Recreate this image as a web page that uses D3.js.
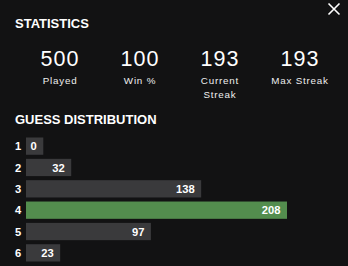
<!DOCTYPE html>
<html><head><meta charset="utf-8">
<script src="https://cdn.jsdelivr.net/npm/d3@7"></script>
<style>
html,body{margin:0;padding:0;background:#121213;}
svg{display:block;}
</style></head>
<body>
<script>
const statValues = ["500", "100", "193", "193"];
const statLabels = [["Played"], ["Win %"], ["Current", "Streak"], ["Max Streak"]];
const guesses = ["1", "2", "3", "4", "5", "6"];
const counts = [0, 32, 138, 208, 97, 23];
const highlight = "4";

const W = 348, H = 266;
const svg = d3.select("body").append("svg").attr("width", W).attr("height", H);
svg.append("rect").attr("width", W).attr("height", H).attr("fill", "#121213");

const font = "'Liberation Sans', Arial, sans-serif";

// close icon
const cx = 334, cy = 9, r = 5.5;
svg.append("path")
  .attr("d", `M${cx-r},${cy-r}L${cx+r},${cy+r}M${cx+r},${cy-r}L${cx-r},${cy+r}`)
  .attr("stroke", "#fff").attr("stroke-width", 1.6).attr("fill", "none");

svg.append("text").attr("x", 15).attr("y", 28.3)
  .attr("font-family", font).attr("font-weight", "bold").attr("font-size", 13)
  .attr("fill", "#fff").text("STATISTICS");

const sx = d3.scaleBand().domain(d3.range(statValues.length)).range([20, 340]);
const sg = svg.append("g").selectAll("g").data(statValues).join("g")
  .attr("transform", (d, i) => `translate(${sx(i) + sx.bandwidth() / 2},0)`);
sg.append("text").attr("y", 66).attr("text-anchor", "middle")
  .attr("font-family", font).attr("font-size", 21.5).attr("letter-spacing", 1)
  .attr("fill", "#fff").text(d => d);
sg.each(function(d, i) {
  d3.select(this).selectAll("text.lab").data(statLabels[i]).join("text")
    .attr("class", "lab").attr("y", (t, j) => 84.3 + j * 13.3).attr("text-anchor", "middle")
    .attr("font-family", font).attr("font-size", 9.8).attr("letter-spacing", 0.8)
    .attr("fill", "#eee").text(t => t);
});

svg.append("text").attr("x", 15).attr("y", 124)
  .attr("font-family", font).attr("font-weight", "bold").attr("font-size", 13)
  .attr("fill", "#fff").text("GUESS DISTRIBUTION");

const y = d3.scaleBand().domain(guesses).range([137.5, 261.5]).paddingInner(0.19).paddingOuter(0);
const x = d3.scaleLinear().domain([0, d3.max(counts)]).range([0, 255]);
const x0 = 26;

const rows = svg.append("g").selectAll("g").data(guesses.map((g, i) => ({g, v: counts[i]}))).join("g")
  .attr("transform", d => `translate(0,${y(d.g)})`);
rows.append("text").attr("x", 18).attr("y", y.bandwidth() / 2).attr("dy", "0.36em")
  .attr("text-anchor", "middle").attr("font-family", font).attr("font-weight", "bold")
  .attr("font-size", 11.2).attr("fill", "#fff").text(d => d.g);
const bw = d => Math.max(17.3, 6 + x(d.v));
rows.append("rect").attr("x", x0).attr("width", bw).attr("height", y.bandwidth())
  .attr("fill", d => d.g === highlight ? "#538d4e" : "#3a3a3c");
rows.append("text").attr("x", d => x0 + bw(d) - 6.5).attr("y", y.bandwidth() / 2).attr("dy", "0.36em")
  .attr("text-anchor", "end").attr("font-family", font).attr("font-weight", "bold")
  .attr("font-size", 11.2).attr("fill", "#fff").text(d => d.v);
</script>
</body></html>
